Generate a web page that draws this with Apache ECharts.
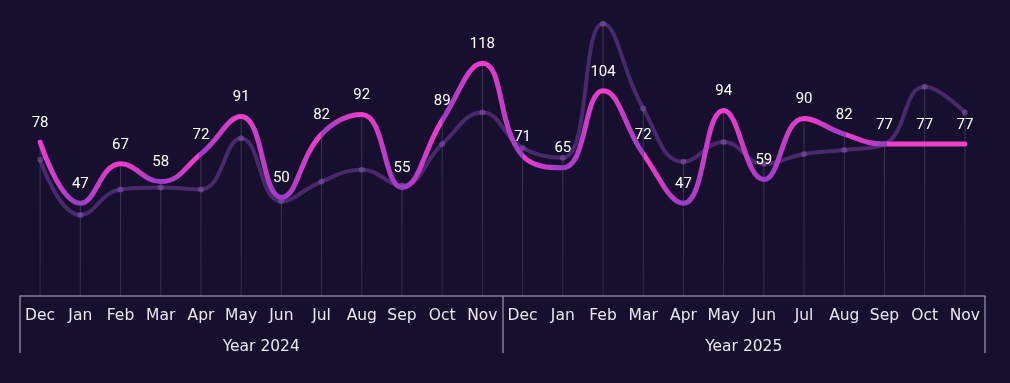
<!DOCTYPE html>
<html>
<head>
<meta charset="utf-8">
<script src="https://cdn.jsdelivr.net/npm/echarts@6/dist/echarts.min.js"></script>
<style>
html,body{margin:0;padding:0;background:#170f2e;}
#c{width:1010px;height:383px;}
</style>
</head>
<body>
<div id="c"></div>
<script>
const months = ['Dec','Jan','Feb','Mar','Apr','May','Jun','Jul','Aug','Sep','Oct','Nov',
                'Dec','Jan','Feb','Mar','Apr','May','Jun','Jul','Aug','Sep','Oct','Nov'];
const years = ['Year 2024','Year 2025'];
const mainValues = [78,47,67,58,72,91,50,82,92,55,89,118,71,65,104,72,47,94,59,90,82,77,77,77];
const compareValues = [69,41,54,55,54,80,48,58,64,56,77,93,75,70,138,95,68,78,67,72,74,77,106,93];

const PINK = '#f23dcb';
const PURPLE = '#9a3cc6';

// per-segment colour switching along the line
const stops = [];
const n = mainValues.length;
for (let i = 0; i < n - 1; i++) {
  const a = mainValues[i], b = mainValues[i + 1];
  stops.push({offset: i / (n - 1), color: a >= b ? PINK : PURPLE});
  stops.push({offset: (i + 1) / (n - 1), color: b >= a ? PINK : PURPLE});
}
const dropValues = mainValues.map((v, i) => Math.max(v, compareValues[i]));

const chart = echarts.init(document.getElementById('c'));
chart.setOption({
  backgroundColor: '#170f2e',
  animation: false,
  grid: {left: 20, right: 25, top: 0, bottom: 87},
  xAxis: [{
    type: 'category', data: months, boundaryGap: true, position: 'bottom',
    axisLine: {show: true, lineStyle: {color: '#857c96', width: 1.5}},
    axisTick: {show: false},
    axisLabel: {color: '#ebe7f2', fontSize: 15.5, fontFamily: 'DejaVu Sans', margin: 12, interval: 0}
  }, {
    type: 'category', data: years, boundaryGap: true, position: 'bottom',
    axisLine: {show: false},
    axisTick: {show: true, length: 57, lineStyle: {color: '#857c96', width: 1.5}},
    axisLabel: {color: '#ebe7f2', fontSize: 15.5, fontFamily: 'DejaVu Sans', margin: 43}
  }],
  yAxis: {type: 'value', min: 0, max: 150, show: false, splitLine: {show: false}},
  series: [{
    type: 'bar', data: dropValues, barWidth: 1, silent: true, z: 1,
    itemStyle: {color: new echarts.graphic.LinearGradient(0, 0, 0, 1, [
      {offset: 0, color: 'rgba(150,140,175,0.3)'},
      {offset: 1, color: 'rgba(150,140,175,0.22)'}
    ])}
  }, {
    type: 'line', data: compareValues, smooth: 0.45, z: 2,
    symbol: 'circle', symbolSize: 6, showSymbol: true,
    lineStyle: {color: 'rgba(105,60,150,0.6)', width: 4},
    itemStyle: {color: 'rgba(135,90,180,0.5)', borderWidth: 0}
  }, {
    type: 'line', data: mainValues, smooth: 0.45, z: 3,
    symbol: 'circle', symbolSize: 1, showSymbol: true,
    lineStyle: {width: 5, color: new echarts.graphic.LinearGradient(0, 0, 1, 0, stops), cap: 'round'},
    itemStyle: {color: 'rgba(0,0,0,0)', borderWidth: 0},
    label: {show: true, position: 'top', distance: 11, color: '#ffffff', fontSize: 15, fontFamily: 'Roboto'}
  }]
});
</script>
</body>
</html>
